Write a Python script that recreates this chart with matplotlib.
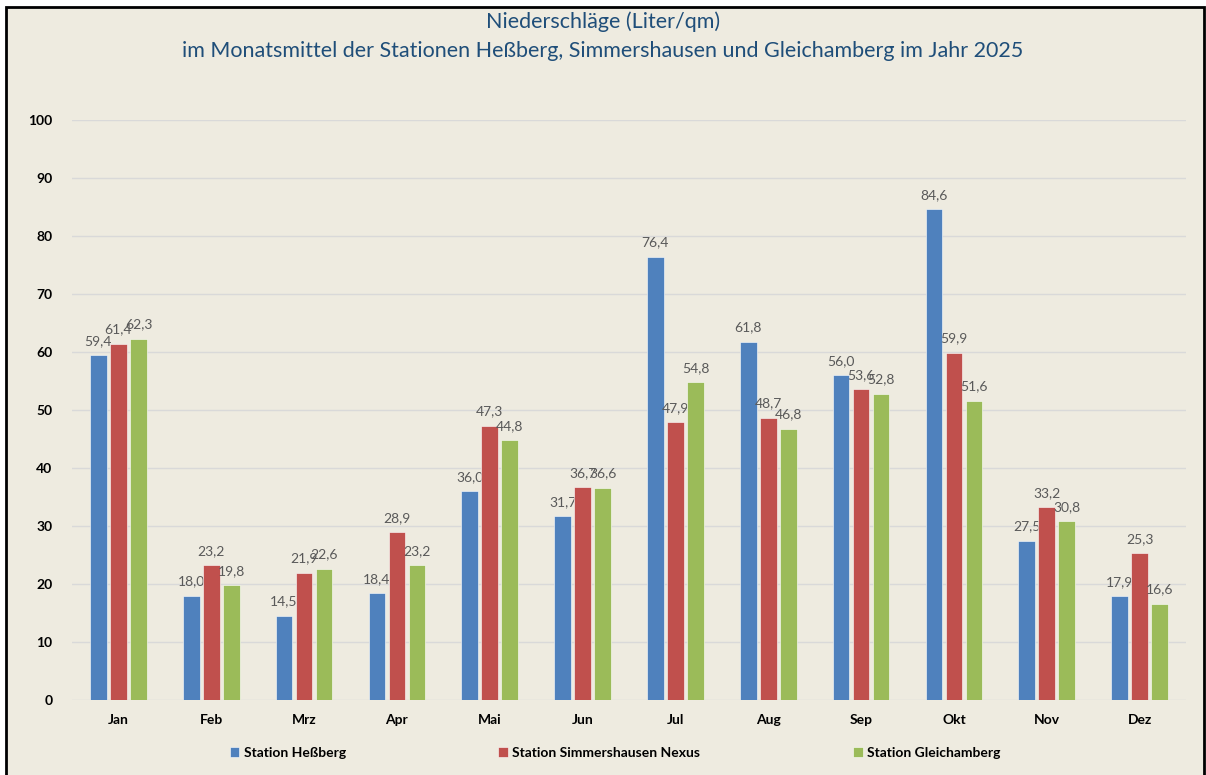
import matplotlib.pyplot as plt
from matplotlib.patches import Rectangle
import numpy as np

months = ["Jan", "Feb", "Mrz", "Apr", "Mai", "Jun", "Jul", "Aug", "Sep", "Okt", "Nov", "Dez"]
hessberg = [59.4, 18.0, 14.5, 18.4, 36.0, 31.7, 76.4, 61.8, 56.0, 84.6, 27.5, 17.9]
simmershausen = [61.4, 23.2, 21.9, 28.9, 47.3, 36.7, 47.9, 48.7, 53.6, 59.9, 33.2, 25.3]
gleichamberg = [62.3, 19.8, 22.6, 23.2, 44.8, 36.6, 54.8, 46.8, 52.8, 51.6, 30.8, 16.6]

series = [
    ("Station Heßberg", hessberg, "#4F81BD"),
    ("Station Simmershausen Nexus", simmershausen, "#C0504D"),
    ("Station Gleichamberg", gleichamberg, "#9BBB59"),
]

plt.rcParams['font.family'] = ['Lato', 'DejaVu Sans']
bg = "#EEEBE0"

fig = plt.figure(figsize=(12.06, 7.75), dpi=100)
fig.patch.set_facecolor("white")
fig.patches.append(Rectangle((6 / 1206, -0.01), 1198 / 1206, 768 / 775 + 0.01,
                             transform=fig.transFigure, facecolor=bg,
                             edgecolor="black", linewidth=2, zorder=-1))

ax = fig.add_axes([72 / 1206, 75 / 775, 1114 / 1206, 580 / 775])
ax.set_facecolor(bg)

x = np.arange(len(months))
width = 0.18
step = 0.216
for i, (name, vals, col) in enumerate(series):
    pos = x + (i - 1) * step
    bars = ax.bar(pos, vals, width, color=col, edgecolor="white", linewidth=0.4, label=name, zorder=3)
    for b, v in zip(bars, vals):
        ax.annotate(f"{v:.1f}".replace(".", ","), (b.get_x() + b.get_width() / 2, v),
                    xytext=(0, 6), textcoords="offset points", ha="center", va="bottom",
                    fontsize=10, color="#595959")

ax.set_xlim(-0.5, 11.5)
ax.set_ylim(0, 100)
ax.set_yticks(range(0, 101, 10))
ax.set_xticks(x)
ax.set_xticklabels(months)
ax.tick_params(length=0, labelsize=10)
ax.tick_params(axis="y", pad=14)
ax.tick_params(axis="x", pad=10)
for lab in ax.get_xticklabels() + ax.get_yticklabels():
    lab.set_fontweight("bold")
ax.grid(axis="y", color="#D9D9D9", linewidth=1, zorder=0)
for s in ax.spines.values():
    s.set_visible(False)

fig.text(0.5, 1 - 22 / 775, "Niederschläge (Liter/qm)", ha="center", va="center",
         fontsize=15.5, color="#1F4E79")
fig.text(0.5, 1 - 51 / 775, "im Monatsmittel der Stationen Heßberg, Simmershausen und Gleichamberg im Jahr 2025",
         ha="center", va="center", fontsize=15.5, color="#1F4E79")

leg = fig.legend(loc="center", bbox_to_anchor=(615 / 1206, 1 - 753 / 775), ncol=3,
                 frameon=False, handlelength=0.7, handleheight=0.7, handletextpad=0.3,
                 columnspacing=11, prop={"weight": "bold", "size": 10})

fig.savefig("out.png", dpi=100, facecolor=fig.get_facecolor())
